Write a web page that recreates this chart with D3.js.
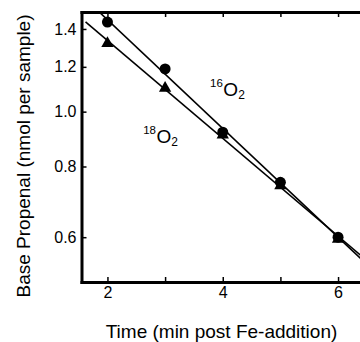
<!DOCTYPE html>
<html>
<head>
<meta charset="UTF-8"/>
<script src="https://d3js.org/d3.v7.min.js"></script>
<style>
  body { margin: 0; background: #fff; }
  svg { display: block; font-family: "Liberation Sans", Arial, Helvetica, sans-serif; }
  .axis path, .axis line { stroke: #000; }
  .axis path { stroke-width: 3px; stroke-linecap: square; }
  .axis line { stroke-width: 1.5px; }
  .axis text { font-size: 16px; fill: #000; }
  .fit { fill: none; stroke: #000; stroke-width: 1.6px; }
</style>
</head>
<body>
<script>
  // minutes after Fe addition
  var times = [2, 3, 4, 5, 6];
  // base propenal, nmol per sample
  var o16 = [1.44, 1.19, 0.92, 0.75, 0.60];
  var o18 = [1.32, 1.10, 0.91, 0.74, 0.595];

  var xTicks = [2, 3, 4, 5, 6];
  var xLabels = [2, 4, 6];
  var yTicks = [0.6, 0.8, 1.0, 1.2, 1.4];

  var W = 360, H = 342;
  var margin = {top: 12, left: 81.5, bottom: 60};
  var plotRight = 364;

  var x = d3.scaleLinear().domain([1.55, 6.45]).range([margin.left, plotRight]);
  var y = d3.scaleLog().domain([1.5, 0.5]).range([margin.top, H - margin.bottom]);

  var svg = d3.select("body").append("svg")
    .attr("width", W)
    .attr("height", H);

  svg.append("defs").append("clipPath").attr("id", "plot")
    .append("rect")
    .attr("x", margin.left).attr("y", margin.top)
    .attr("width", plotRight - margin.left)
    .attr("height", H - margin.bottom - margin.top);

  // frame + axes, ticks point inward
  svg.append("g")
    .attr("class", "axis")
    .attr("transform", "translate(0," + (H - margin.bottom) + ")")
    .call(d3.axisBottom(x).tickValues(xTicks).tickSize(-5).tickSizeOuter(0).tickPadding(5)
      .tickFormat(function(d) { return xLabels.indexOf(d) >= 0 ? d : ""; }));

  svg.append("g")
    .attr("class", "axis")
    .attr("transform", "translate(0," + margin.top + ")")
    .call(d3.axisTop(x).tickValues(xTicks).tickSize(-5).tickSizeOuter(0).tickFormat(""));

  svg.append("g")
    .attr("class", "axis")
    .attr("transform", "translate(" + margin.left + ",0)")
    .call(d3.axisLeft(y).tickValues(yTicks).tickSize(-5).tickSizeOuter(0).tickPadding(5)
      .tickFormat(d3.format(".1f")));

  // log-linear least squares fit, like the original straight lines on the log axis
  function fit(xs, ys) {
    var ly = ys.map(Math.log);
    var mx = d3.mean(xs), my = d3.mean(ly);
    var sxy = d3.sum(xs, function(v, i) { return (v - mx) * (ly[i] - my); });
    var sxx = d3.sum(xs, function(v) { return (v - mx) * (v - mx); });
    var b = sxy / sxx, a = my - b * mx;
    return function(t) { return Math.exp(a + b * t); };
  }

  var line = d3.line()
    .x(function(d) { return x(d[0]); })
    .y(function(d) { return y(d[1]); });

  var g = svg.append("g").attr("clip-path", "url(#plot)");

  [o16, o18].forEach(function(series) {
    var f = fit(times, series);
    g.append("path")
      .attr("class", "fit")
      .attr("d", line([[1.62, f(1.62)], [6.6, f(6.6)]]));
  });

  g.selectAll(".tri")
    .data(times)
    .enter().append("path")
    .attr("class", "tri")
    .attr("d", d3.symbol().type(d3.symbolTriangle).size(66))
    .attr("transform", function(d, i) { return "translate(" + x(d) + "," + y(o18[i]) + ")"; })
    .attr("fill", "#000");

  g.selectAll(".dot")
    .data(times)
    .enter().append("circle")
    .attr("class", "dot")
    .attr("cx", function(d) { return x(d); })
    .attr("cy", function(d, i) { return y(o16[i]); })
    .attr("r", 5.5)
    .attr("fill", "#000");

  // isotope labels
  var labels = [
    {mass: "16", t: 3.78, v: 1.066},
    {mass: "18", t: 2.62, v: 0.881}
  ];
  labels.forEach(function(l) {
    var txt = svg.append("text")
      .attr("x", x(l.t))
      .attr("y", y(l.v))
      .attr("fill", "#000");
    txt.append("tspan").attr("font-size", 11.5).attr("dy", -9).text(l.mass);
    txt.append("tspan").attr("font-size", 19).attr("dy", 9).attr("dx", 0.5).text("O");
    txt.append("tspan").attr("font-size", 12).attr("dy", 3.5).text("2");
  });

  svg.append("text")
    .attr("transform", "rotate(-90)")
    .attr("x", -156)
    .attr("y", 30)
    .attr("text-anchor", "middle")
    .attr("font-size", 19)
    .text("Base Propenal (nmol per sample)");

  svg.append("text")
    .attr("x", 221.5)
    .attr("y", 338)
    .attr("text-anchor", "middle")
    .attr("font-size", 19)
    .text("Time (min post Fe-addition)");
</script>
</body>
</html>
